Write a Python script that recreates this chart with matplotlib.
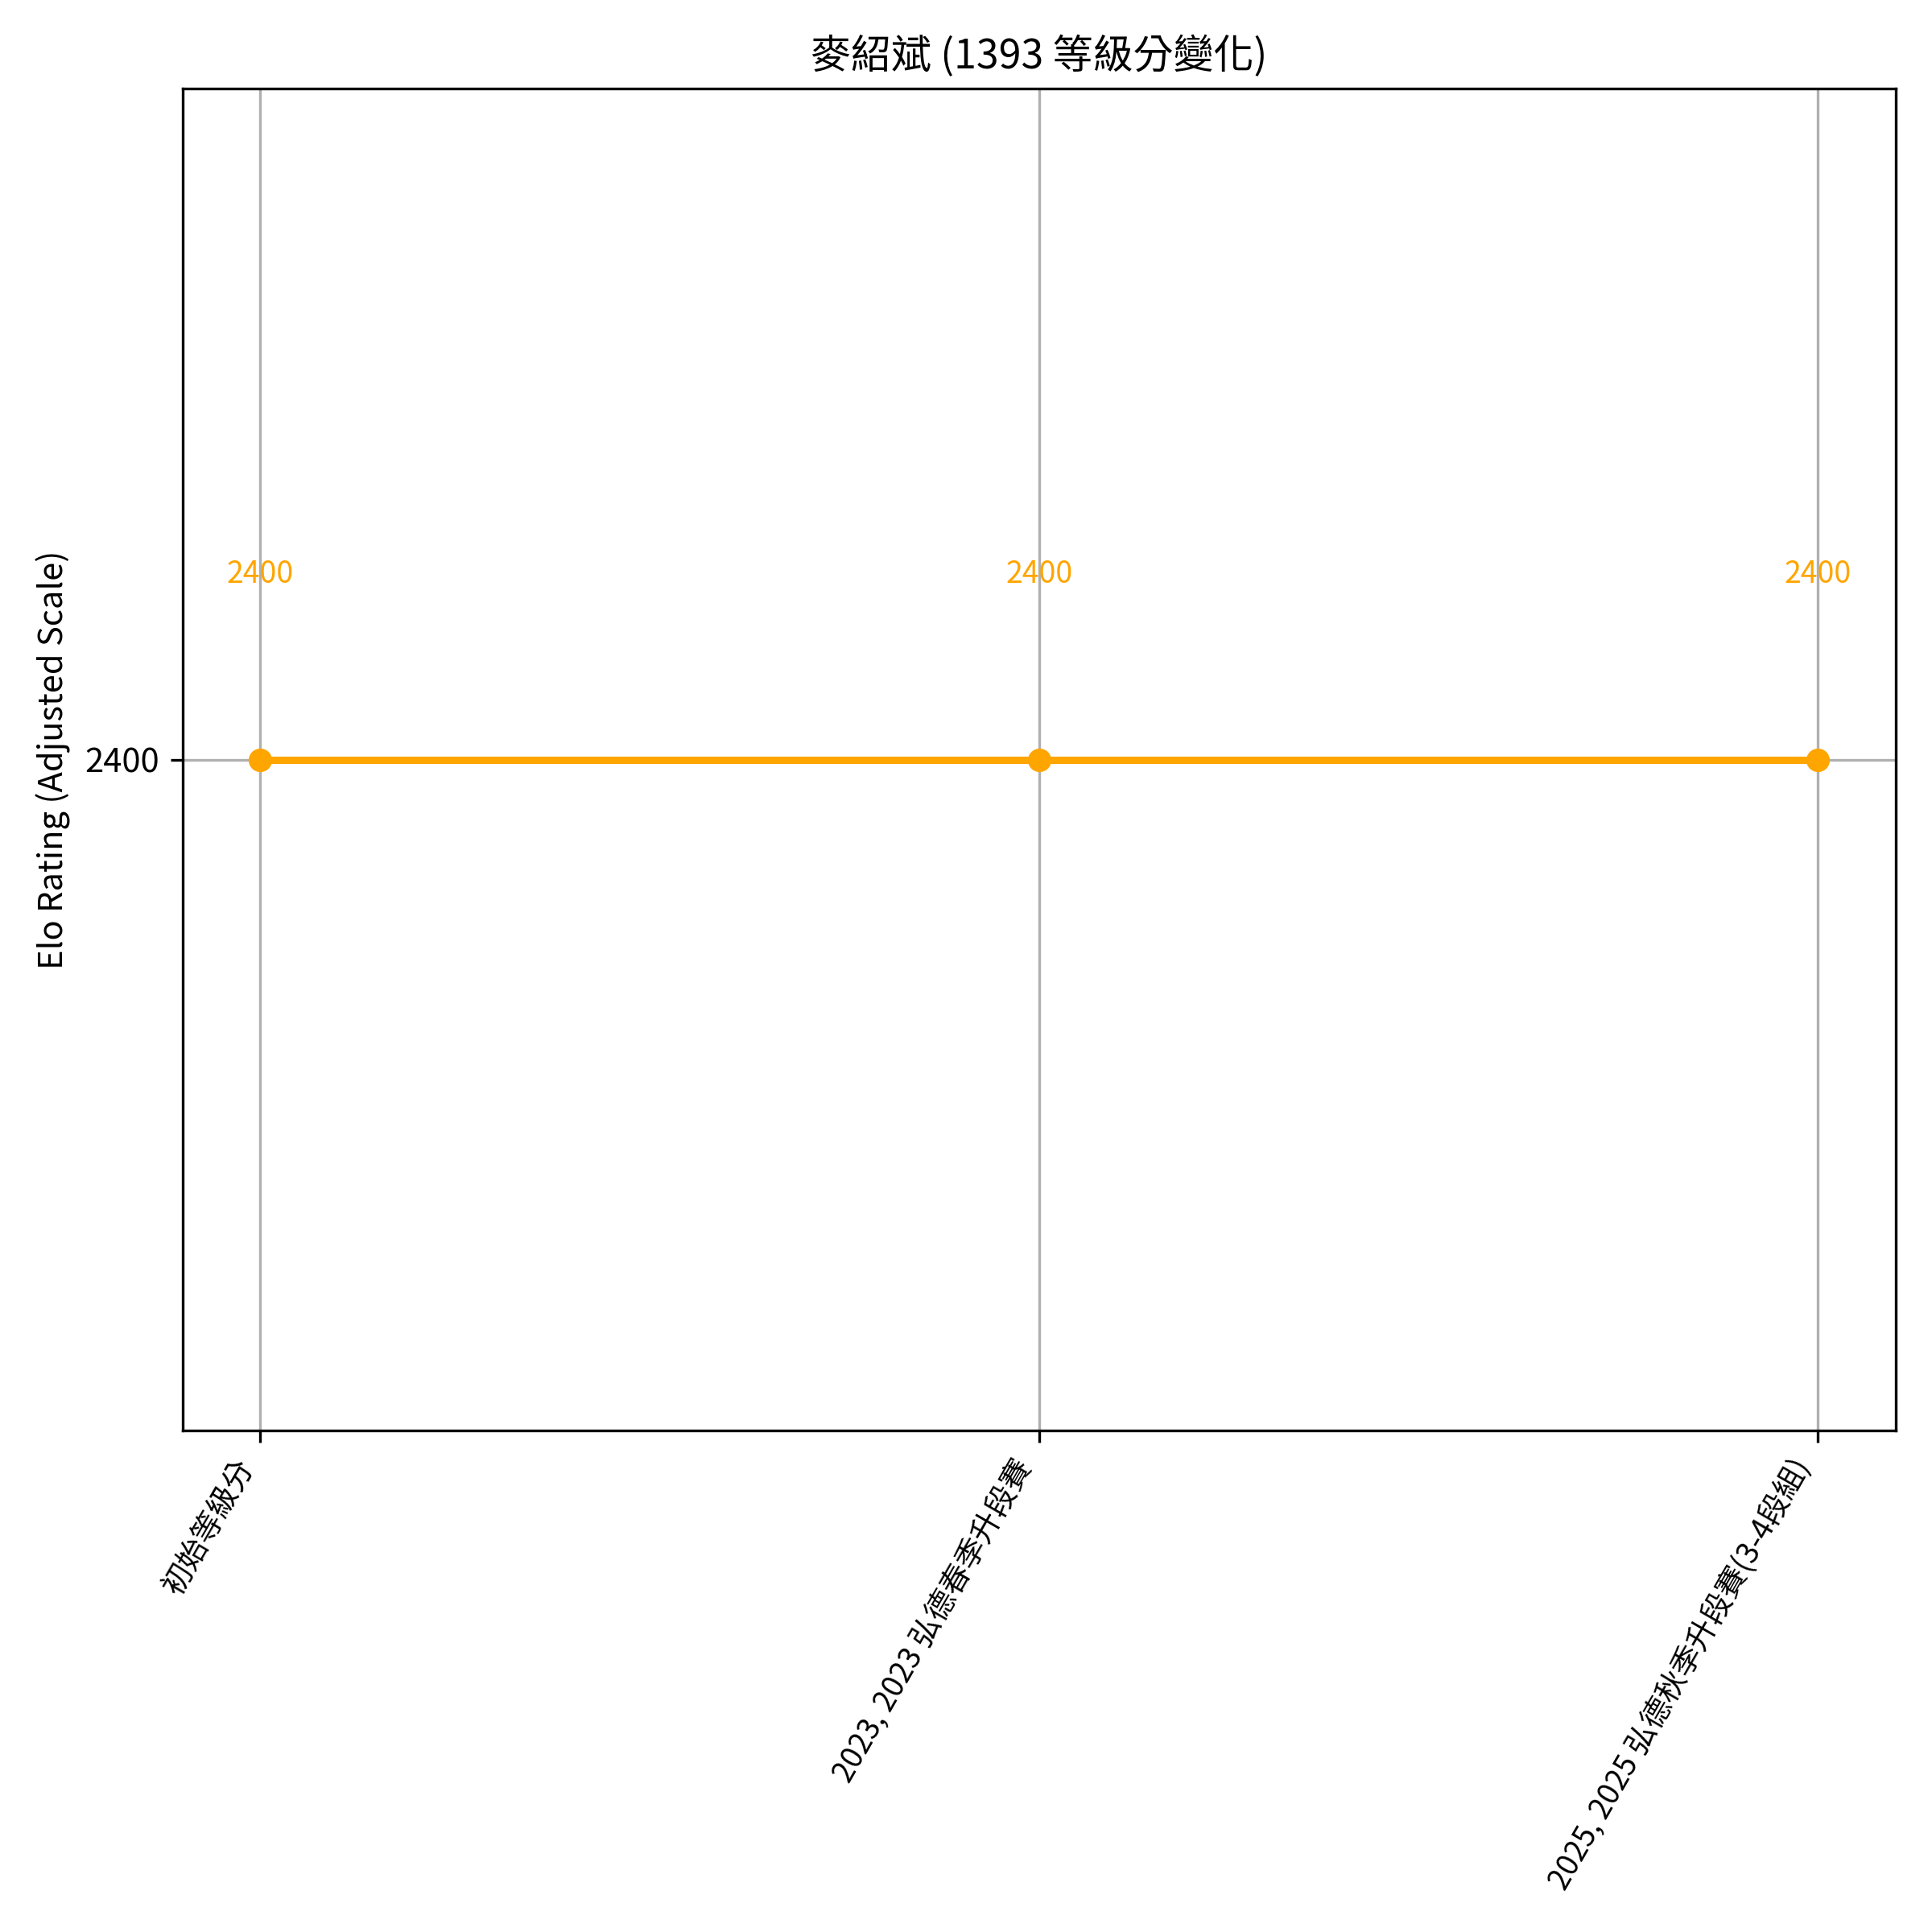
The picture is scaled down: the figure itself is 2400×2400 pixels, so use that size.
import matplotlib
matplotlib.use('Agg')
import matplotlib.pyplot as plt

plt.rcParams['font.family'] = ['Noto Sans CJK TC', 'DejaVu Sans']

player = '麥紹斌'
player_id = 1393
events = ['初始等級分', '2023, 2023 弘德春季升段賽', '2025, 2025 弘德秋季升段賽(3-4段組)']
ratings = [2400, 2400, 2400]

fig, ax = plt.subplots(figsize=(8, 8), dpi=300)
x = list(range(len(events)))
ax.plot(x, ratings, marker='o', color='orange', linewidth=2.2, markersize=6)

pad = 100
ax.set_ylim(min(ratings) - pad, max(ratings) + pad)
for xi, r in zip(x, ratings):
    ax.text(xi, r + pad * 0.276, str(r), color='orange', fontsize=9,
            ha='center', va='center')

ax.set_xticks(x)
ax.set_xticklabels(events, rotation=60, ha='right', fontsize=9)
ax.set_yticks(sorted(set(ratings)))
ax.set_ylabel('Elo Rating (Adjusted Scale)')
ax.set_title(f'{player} ({player_id} 等級分變化)')
ax.grid(True)

plt.tight_layout()
plt.savefig('out.png', dpi=300)
